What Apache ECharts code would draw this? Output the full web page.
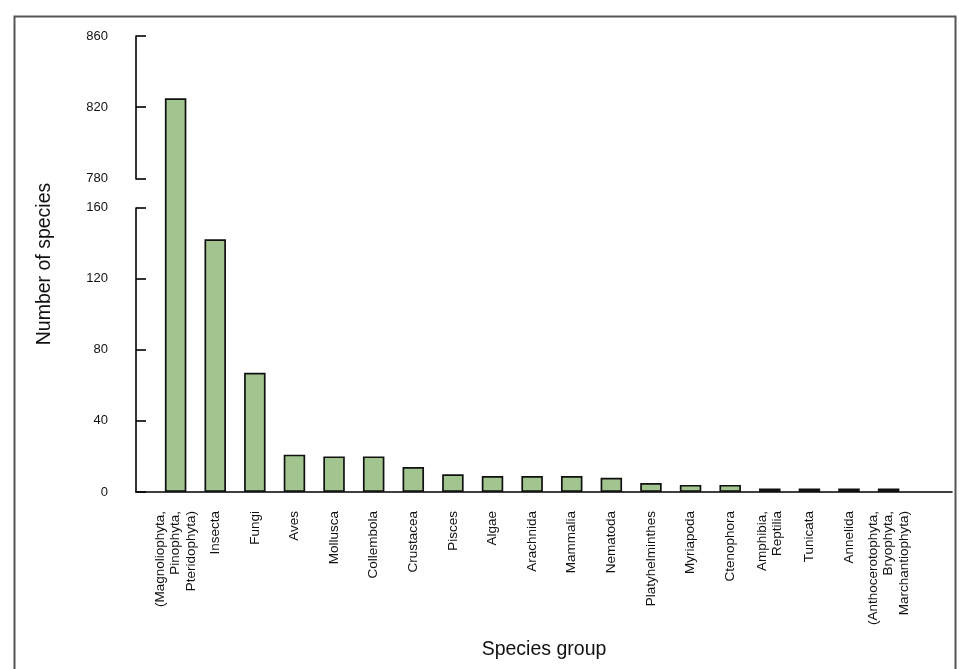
<!DOCTYPE html>
<html>
<head>
<meta charset="utf-8">
<script src="https://cdn.jsdelivr.net/npm/echarts@6/dist/echarts.min.js"></script>
<style>
html,body{margin:0;padding:0;background:#fff;}
#chart{width:959px;height:669px;}
</style>
</head>
<body>
<div id="chart"></div>
<script>
const categories = [
  '(Magnoliophyta,\nPinophyta,\nPteridophyta)', 'Insecta', 'Fungi', 'Aves', 'Mollusca',
  'Collembola', 'Crustacea', 'Pisces', 'Algae', 'Arachnida', 'Mammalia', 'Nematoda',
  'Platyhelminthes', 'Myriapoda', 'Ctenophora', 'Amphibia,\nReptilia', 'Tunicata',
  'Annelida', '(Anthocerotophyta,\nBryophyta,\nMarchantiophyta)'
];
const speciesCounts = [825, 142, 67, 21, 20, 20, 14, 10, 9, 9, 9, 8, 5, 4, 4, 2, 2, 2, 2];
const yTickValues = [0, 40, 80, 120, 160, 780, 820, 860];
const axisBreak = { start: 160, end: 780, gap: 16.3 };

const FONT = '"Liberation Sans", Arial, Helvetica, sans-serif';
const chart = echarts.init(document.getElementById('chart'), null, { renderer: 'canvas' });

chart.setOption({
  animation: false,
  backgroundColor: '#ffffff',
  graphic: [{
    type: 'rect', left: 12, top: 14,
    shape: { width: 941, height: 700 },
    style: { fill: 'none', stroke: '#555555', lineWidth: 2 }, silent: true
  }],
  grid: { left: 136, right: 7, top: 36, bottom: 177, containLabel: false },
  xAxis: {
    type: 'value', min: -1, max: 19.6, interval: 1,
    name: 'Species group', nameLocation: 'middle', nameGap: 148,
    nameTextStyle: { fontFamily: FONT, fontSize: 19.5, color: '#111' },
    axisLine: { show: true, onZero: false, lineStyle: { color: '#000', width: 1.6 } },
    axisTick: { show: false },
    splitLine: { show: false },
    axisLabel: {
      rotate: 90, margin: 19, fontFamily: FONT, fontSize: 13.5, color: '#111', lineHeight: 15.5,
      showMinLabel: true, showMaxLabel: true, hideOverlap: false,
      formatter: v => (Number.isInteger(v) && categories[v] !== undefined) ? categories[v] : ''
    }
  },
  yAxis: {
    type: 'value', min: 0, max: 860, interval: 40,
    breaks: [axisBreak],
    breakArea: { show: true, itemStyle: { color: '#fff', opacity: 0, borderColor: 'transparent' }, zigzagAmplitude: 0 },
    name: 'Number of species', nameLocation: 'middle', nameGap: 81,
    nameTextStyle: { fontFamily: FONT, fontSize: 19.5, color: '#111' },
    axisLine: { show: true, onZero: false, lineStyle: { color: '#000', width: 1.6 } },
    axisTick: { show: true, inside: true, length: 10, lineStyle: { color: '#000', width: 1.6 }, customValues: yTickValues },
    splitLine: { show: false },
    axisLabel: { margin: 28, fontFamily: FONT, fontSize: 13, color: '#111', customValues: yTickValues }
  },
  series: [{
    type: 'bar',
    data: speciesCounts.map((v, i) => [i, v]),
    barWidth: 21.5,
    itemStyle: { color: '#a2c48f', borderColor: '#111', borderWidth: 1.7 }
  }]
});
</script>
</body>
</html>
